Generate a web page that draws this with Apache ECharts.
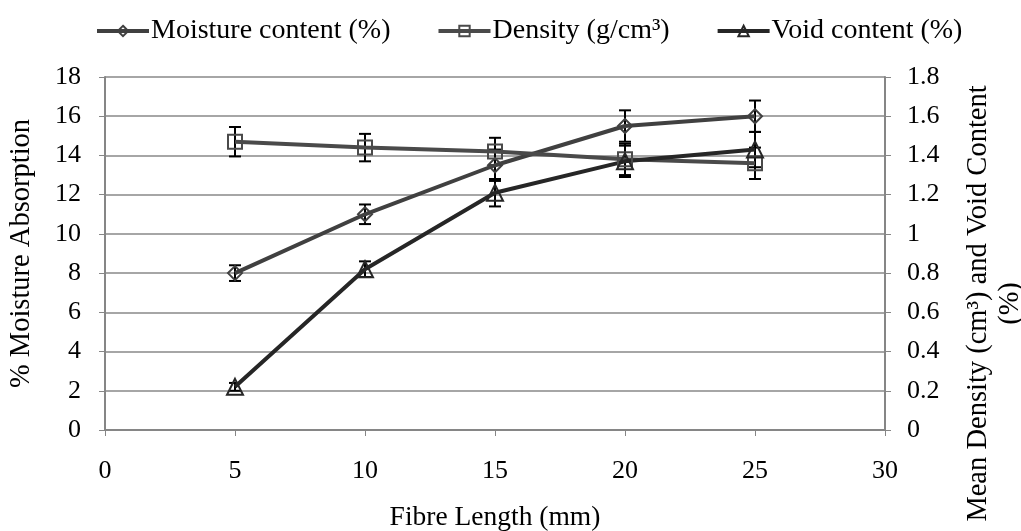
<!DOCTYPE html>
<html>
<head>
<meta charset="utf-8">
<script src="https://cdn.jsdelivr.net/npm/echarts@6/dist/echarts.min.js"></script>
<style>
  html, body { margin: 0; padding: 0; background: #fff; }
  #chart { width: 1021px; height: 531px; }
</style>
</head>
<body>
<div id="chart"></div>
<script>
// fibre length (mm)
const fibreLength = [5, 10, 15, 20, 25]

// moisture content (%), left axis
const moisture = [8.0, 11.0, 13.5, 15.5, 16.0]
const moistureErr = [0.4, 0.5, 0.8, 0.8, 0.8]

// density (g/cm3), right axis
const density = [1.47, 1.44, 1.42, 1.38, 1.36]
const densityErr = [0.075, 0.07, 0.07, 0.08, 0.08]

// void content (%), right axis
const voids = [0.22, 0.82, 1.21, 1.37, 1.43]
const voidsErr = [0.02, 0.04, 0.07, 0.08, 0.09]

const leftTicks = { min: 0, max: 18, interval: 2 }
const rightTicks = { min: 0, max: 1.8, interval: 0.2 }

const FONT = 'Liberation Serif'
const axisGray = '#868686'
const gridGray = '#a6a6a6'

function pairs(ys) {
  return fibreLength.map((x, i) => [x, ys[i]])
}

function errData(ys, errs) {
  return fibreLength.map((x, i) => [x, ys[i] - errs[i], ys[i] + errs[i]])
}

function errorBarSeries(ys, errs, yAxisIndex) {
  return {
    type: 'custom',
    yAxisIndex: yAxisIndex,
    z: 1,
    silent: true,
    data: errData(ys, errs),
    renderItem: function (params, api) {
      const lo = api.coord([api.value(0), api.value(1)])
      const hi = api.coord([api.value(0), api.value(2)])
      const half = 6
      const style = { stroke: '#000', lineWidth: 2 }
      return {
        type: 'group',
        children: [
          { type: 'line', shape: { x1: lo[0], y1: lo[1], x2: hi[0], y2: hi[1] }, style: style },
          { type: 'line', shape: { x1: lo[0] - half, y1: lo[1], x2: lo[0] + half, y2: lo[1] }, style: style },
          { type: 'line', shape: { x1: hi[0] - half, y1: hi[1], x2: hi[0] + half, y2: hi[1] }, style: style }
        ]
      }
    }
  }
}

function lineSeries(name, ys, yAxisIndex, color, symbol, size) {
  return {
    name: name,
    type: 'line',
    yAxisIndex: yAxisIndex,
    data: pairs(ys),
    z: 3,
    symbol: symbol,
    symbolSize: size,
    showAllSymbol: true,
    lineStyle: { color: color, width: 4 },
    itemStyle: { color: 'rgba(255,255,255,0)', borderColor: color, borderWidth: 2 }
  }
}

const chart = echarts.init(document.getElementById('chart'))

chart.setOption({
  animation: false,
  textStyle: { fontFamily: FONT },
  legend: {
    top: 12,
    left: 90,
    itemWidth: 52,
    itemHeight: 13,
    itemGap: 46,
    lineStyle: { width: 4 },
    textStyle: { fontFamily: FONT, fontSize: 28, color: '#000', padding: [0, 0, 0, -3] },
    data: ['Moisture content (%)', 'Density (g/cm³)', 'Void content (%)']
  },
  grid: { left: 105, right: 136, top: 77, bottom: 101, outerBoundsMode: 'none' },
  xAxis: {
    type: 'value',
    min: 0,
    max: 30,
    interval: 5,
    name: 'Fibre Length (mm)',
    nameLocation: 'middle',
    nameGap: 74,
    nameTextStyle: { fontFamily: FONT, fontSize: 27.5, color: '#000' },
    axisLine: { lineStyle: { color: axisGray, width: 2 } },
    axisTick: { show: true, length: 6, lineStyle: { color: axisGray, width: 1 } },
    axisLabel: { fontFamily: FONT, fontSize: 26, color: '#000', margin: 28 },
    splitLine: { show: false }
  },
  yAxis: [
    {
      type: 'value',
      min: leftTicks.min,
      max: leftTicks.max,
      interval: leftTicks.interval,
      position: 'left',
      name: '% Moisture Absorption',
      nameLocation: 'middle',
      nameGap: 69,
      nameRotate: 90,
      nameTextStyle: { fontFamily: FONT, fontSize: 28.5, color: '#000' },
      axisLine: { show: true, lineStyle: { color: axisGray, width: 2 } },
      axisTick: { show: true, length: 6, lineStyle: { color: axisGray, width: 1 } },
      axisLabel: { fontFamily: FONT, fontSize: 26, color: '#000', margin: 24 },
      splitLine: { show: true, lineStyle: { color: gridGray, width: 2 } }
    },
    {
      type: 'value',
      min: rightTicks.min,
      max: rightTicks.max,
      interval: rightTicks.interval,
      position: 'right',
      name: 'Mean Density (cm³) and Void Content\n(%)',
      nameLocation: 'middle',
      nameGap: 78,
      nameRotate: 90,
      nameTextStyle: {
        fontFamily: FONT, fontSize: 28.5, color: '#000', lineHeight: 32, align: 'center',
        padding: [0, 100, 0, 0]
      },
      axisLine: { show: true, lineStyle: { color: axisGray, width: 2 } },
      axisTick: { show: true, length: 6, lineStyle: { color: axisGray, width: 1 } },
      axisLabel: { fontFamily: FONT, fontSize: 26, color: '#000', margin: 22 },
      splitLine: { show: false }
    }
  ],
  series: [
    errorBarSeries(moisture, moistureErr, 0),
    errorBarSeries(density, densityErr, 1),
    errorBarSeries(voids, voidsErr, 1),
    lineSeries('Moisture content (%)', moisture, 0, '#404040', 'diamond', 14),
    lineSeries('Density (g/cm³)', density, 1, '#4a4a4a', 'rect', 14),
    lineSeries('Void content (%)', voids, 1, '#262626', 'triangle', 16)
  ]
})
</script>
</body>
</html>
